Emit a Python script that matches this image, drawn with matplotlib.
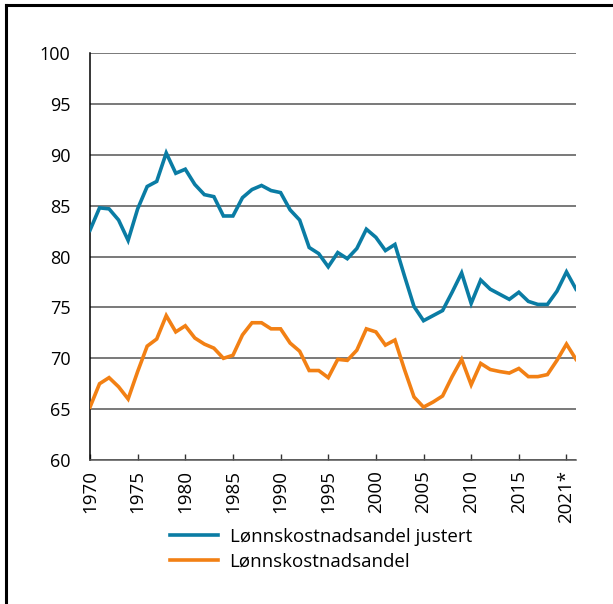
import matplotlib.pyplot as plt
from matplotlib.lines import Line2D

plt.rcParams["font.family"] = ["Open Sans", "DejaVu Sans"]

years = list(range(1970, 2022))

# Lønnskostnadsandel justert
adjusted = [
    82.6, 84.8, 84.7, 83.6, 81.6, 84.7, 86.9, 87.4, 90.2, 88.2,
    88.6, 87.1, 86.1, 85.9, 84.0, 84.0, 85.8, 86.6, 87.0, 86.5,
    86.3, 84.6, 83.6, 80.9, 80.3, 79.0, 80.4, 79.8, 80.8, 82.7,
    81.9, 80.6, 81.2, 78.1, 75.1, 73.7, 74.2, 74.7, 76.5, 78.4,
    75.4, 77.7, 76.8, 76.3, 75.8, 76.5, 75.6, 75.3, 75.3, 76.6,
    78.5, 76.8,
]

# Lønnskostnadsandel
share = [
    65.2, 67.5, 68.1, 67.2, 66.0, 68.7, 71.2, 71.9, 74.2, 72.6,
    73.2, 72.0, 71.4, 71.0, 70.0, 70.3, 72.3, 73.5, 73.5, 72.9,
    72.9, 71.5, 70.7, 68.8, 68.8, 68.1, 69.9, 69.8, 70.8, 72.9,
    72.6, 71.3, 71.8, 68.9, 66.2, 65.2, 65.7, 66.3, 68.2, 69.9,
    67.4, 69.5, 68.9, 68.7, 68.55, 69.0, 68.2, 68.2, 68.4, 69.8,
    71.4, 69.9,
]

tick_pos = [1970, 1975, 1980, 1985, 1990, 1995, 2000, 2005, 2010, 2015, 2020]
tick_labels = ["1970", "1975", "1980", "1985", "1990", "1995", "2000",
               "2005", "2010", "2015", "2021*"]

BLUE = "#0a7ca4"
ORANGE = "#f28014"

fig = plt.figure(figsize=(6.13, 6.04), dpi=100)
ax = fig.add_axes([90 / 613, 1 - 460 / 604, (576 - 90) / 613, (460 - 53.3) / 604])

ax.plot(years, adjusted, color=BLUE, lw=2.6, label="Lønnskostnadsandel justert",
        solid_joinstyle="miter", zorder=3)
ax.plot(years, share, color=ORANGE, lw=2.6, label="Lønnskostnadsandel",
        solid_joinstyle="miter", zorder=3)

ax.set_xlim(1970, 2021)
ax.set_ylim(60, 100)
ax.set_yticks(range(60, 101, 5))
ax.yaxis.grid(True, color="#555555", lw=1.1)
ax.set_axisbelow(True)

ax.set_xticks(tick_pos)
ax.set_xticklabels(tick_labels, rotation=90)
ax.tick_params(axis="x", direction="in", length=4, width=1, color="#333333",
               labelsize=13.5, pad=7)
ax.tick_params(axis="y", length=0, labelsize=13, pad=14)

for side in ("top", "right"):
    ax.spines[side].set_visible(False)
ax.spines["left"].set_color("black")
ax.spines["left"].set_linewidth(1.1)
ax.spines["bottom"].set_color("#555555")
ax.spines["bottom"].set_linewidth(1.1)

fig.legend(loc="upper left", bbox_to_anchor=(162 / 613, 1 - 520 / 604),
           frameon=False, fontsize=13.5, handlelength=2.6, handletextpad=0.6,
           labelspacing=0.4, borderaxespad=0)

# frame lines on the left and top edges
fig.add_artist(Line2D([6 / 613, 6 / 613], [0, 1 - 5 / 604], color="black", lw=2.2))
fig.add_artist(Line2D([6 / 613, 1], [1 - 5 / 604, 1 - 5 / 604], color="black", lw=2.2))

fig.savefig("out.png", dpi=100)
